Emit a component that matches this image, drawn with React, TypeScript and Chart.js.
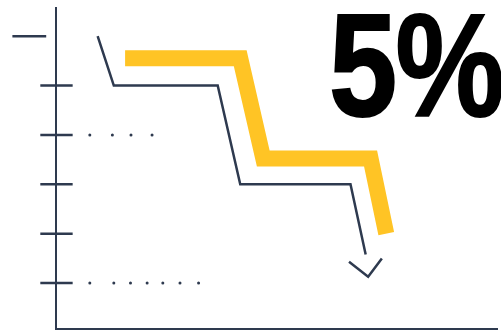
import React, { useEffect, useRef } from "react";
import { Chart, registerables } from "chart.js";

Chart.register(...registerables);

// ---- data (axis units) ----
const yellowX = [1.41, 3.76, 4.23, 6.42, 6.74];
const yellowY = [5.55, 5.55, 3.52, 3.52, 2.0];

const darkX = [0.85, 1.18, 3.3, 3.76, 6.01, 6.32];
const darkY = [6.0, 5.0, 5.0, 3.0, 3.0, 1.58];

const arrowX = [5.98, 6.37, 6.65];
const arrowY = [1.43, 1.13, 1.5];

const dotsRow4X = [0.69, 1.15, 1.53, 1.96];
const dotsRow4Y = 4;
const dotsRow1X = [0.69, 1.18, 1.52, 1.86, 2.18, 2.53, 2.91];
const dotsRow1Y = 1;

const tickValues = [1, 2, 3, 4, 5];
const tickSpan = [-0.32, 0.34];
const topTickValue = 6;
const topTickSpan = [-0.89, -0.2];

const bigLabel = "5%";

const DARK = "#2e3a4f";
const YELLOW = "#FFC425";

const pts = (xs: number[], ys: number[]) => xs.map((x, i) => ({ x, y: ys[i] }));

export default function App() {
  const canvasRef = useRef<HTMLCanvasElement | null>(null);

  useEffect(() => {
    document.body.style.margin = "0";
    const canvas = canvasRef.current;
    if (!canvas) return;

    const tickData: any[] = [];
    tickValues.forEach((v) => {
      tickData.push({ x: tickSpan[0], y: v });
      tickData.push({ x: tickSpan[1], y: v });
      tickData.push({ x: 0, y: null });
    });

    const lineBase = {
      showLine: true,
      pointRadius: 0,
      pointHoverRadius: 0,
      tension: 0,
      fill: false,
      clip: false as any,
      borderCapStyle: "butt" as const,
      borderJoinStyle: "miter" as const,
    };

    const chart = new Chart(canvas, {
      type: "scatter",
      data: {
        datasets: [
          { ...lineBase, data: pts(yellowX, yellowY), borderColor: YELLOW, borderWidth: 16 },
          { ...lineBase, data: pts(darkX, darkY), borderColor: DARK, borderWidth: 2.5 },
          { ...lineBase, data: pts(arrowX, arrowY), borderColor: DARK, borderWidth: 2.5 },
          {
            data: dotsRow4X.map((x) => ({ x, y: dotsRow4Y })),
            showLine: false,
            pointRadius: 1.5,
            pointBorderWidth: 0,
            pointBackgroundColor: DARK,
            clip: false as any,
          },
          {
            data: dotsRow1X.map((x) => ({ x, y: dotsRow1Y })),
            showLine: false,
            pointRadius: 1.5,
            pointBorderWidth: 0,
            pointBackgroundColor: DARK,
            clip: false as any,
          },
          { ...lineBase, data: tickData, borderColor: DARK, borderWidth: 2.5, spanGaps: false },
          {
            ...lineBase,
            data: topTickSpan.map((x) => ({ x, y: topTickValue })),
            borderColor: DARK,
            borderWidth: 2.5,
          },
        ],
      },
      options: {
        responsive: false,
        animation: false,
        devicePixelRatio: 1,
        events: [],
        layout: { padding: { left: 56, top: 8, right: 0, bottom: 3 } },
        plugins: { legend: { display: false }, tooltip: { enabled: false }, title: { display: false } },
        scales: {
          x: {
            type: "linear",
            min: 0,
            max: 9,
            grid: { display: false, drawTicks: false },
            ticks: { display: false },
            border: { display: true, color: DARK, width: 2 },
          },
          y: {
            type: "linear",
            min: 0.07,
            max: 6.57,
            grid: { display: false, drawTicks: false },
            ticks: { display: false },
            border: { display: true, color: DARK, width: 2 },
          },
        },
      },
    });
    return () => chart.destroy();
  }, []);

  return (
    <div style={{ position: "absolute", left: 0, top: 0, width: 501, height: 333, overflow: "hidden", background: "#fff" }}>
      <canvas ref={canvasRef} width={501} height={333} style={{ display: "block" }} />
      <div
        style={{
          position: "absolute",
          left: 329,
          top: -7,
          fontFamily: "'Liberation Sans', Arial, sans-serif",
          fontWeight: 700,
          fontSize: 146,
          lineHeight: 1,
          color: "#000",
          whiteSpace: "nowrap",
          letterSpacing: -2,
          transform: "scaleX(0.84)",
          transformOrigin: "left top",
          WebkitTextStroke: "2px #000",
        } as any}
      >
        {bigLabel}
      </div>
    </div>
  );
}
